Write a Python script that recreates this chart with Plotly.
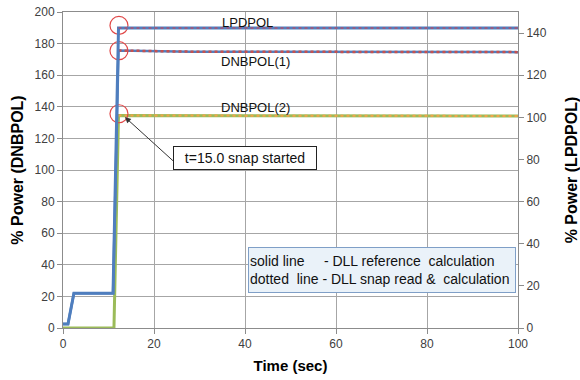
import plotly.graph_objects as go

# ---- data ----
t_lpd = [0, 1.1, 2.4, 11.0, 12.2, 100]
lpd_solid = [1.9, 1.9, 16.5, 16.5, 142.4, 142.4]          # right axis (% LPDPOL)
t_lpd_dot = [12.2, 100]
lpd_dot = [142.4, 142.4]

t_dnb1 = [0, 1.1, 2.4, 11.0, 12.2, 28, 100]
dnb1_solid = [2.5, 2.5, 22, 22, 175.6, 174.9, 174.6]       # left axis
t_dnb1_dot = [12.2, 28, 100]
dnb1_dot = [175.6, 174.9, 174.6]

t_dnb2 = [0, 11.2, 12.2, 100]
dnb2_solid = [0, 0, 134.5, 134.2]
t_dnb2_dot = [12.2, 100]
dnb2_dot = [134.5, 134.2]

t_circ = [12.3, 12.3, 12.3]
y_circ = [191.5, 175.5, 135.6]

x_ticks = [0, 20, 40, 60, 80, 100]
y_ticks = list(range(0, 201, 20))
y2_ticks = list(range(0, 141, 20))

BLUE = "#4F7EBE"
RED = "#C8504D"
GREEN = "#9BBB59"
ORANGE = "#F2A44A"
FONT = "Liberation Sans"

fig = go.Figure()
fig.add_trace(go.Scatter(x=t_dnb2, y=dnb2_solid, mode="lines",
                         line=dict(color=GREEN, width=3), yaxis="y"))
fig.add_trace(go.Scatter(x=t_dnb2_dot, y=dnb2_dot, mode="lines",
                         line=dict(color=ORANGE, width=2, dash="dot"), yaxis="y"))
fig.add_trace(go.Scatter(x=t_dnb1, y=dnb1_solid, mode="lines",
                         line=dict(color=BLUE, width=2.5), yaxis="y"))
fig.add_trace(go.Scatter(x=t_dnb1_dot, y=dnb1_dot, mode="lines",
                         line=dict(color=RED, width=2.5, dash="dot"), yaxis="y"))
fig.add_trace(go.Scatter(x=t_lpd, y=lpd_solid, mode="lines",
                         line=dict(color=BLUE, width=3), yaxis="y2"))
fig.add_trace(go.Scatter(x=t_lpd_dot, y=lpd_dot, mode="lines",
                         line=dict(color="#B0506E", width=1.5, dash="dot"), yaxis="y2"))
fig.add_trace(go.Scatter(x=t_circ, y=y_circ, mode="markers",
                         marker=dict(symbol="circle-open", size=18,
                                     color="#E04848", line=dict(width=1.2)),
                         yaxis="y"))

annots = [
    dict(x=40.6, y=193.5, text="LPDPOL", showarrow=False,
         font=dict(family=FONT, size=13, color="#111")),
    dict(x=42.3, y=168.9, text="DNBPOL(1)", showarrow=False,
         font=dict(family=FONT, size=13, color="#111")),
    dict(x=42.3, y=139.8, text="DNBPOL(2)", showarrow=False,
         font=dict(family=FONT, size=13, color="#111")),
    # arrow
    dict(x=13.6, y=133.5, ax=24.5, ay=105, axref="x", ayref="y",
         xref="x", yref="y", text="", showarrow=True,
         arrowhead=2, arrowsize=1.2, arrowwidth=1, arrowcolor="#333"),
    dict(x=39.9, y=107.6, text="t=15.0 snap started", showarrow=False,
         font=dict(family=FONT, size=14, color="#111"),
         bgcolor="white", bordercolor="#222", borderwidth=1,
         width=140, height=20),
    dict(x=70.0, y=36.5, showarrow=False, align="left",
         text="solid line\u00a0\u00a0\u00a0\u00a0 - DLL reference\u00a0 calculation<br>"
              "dotted\u00a0 line - DLL snap read &amp;\u00a0 calculation",
         font=dict(family=FONT, size=14, color="#111"),
         bgcolor="#EAF2F9", bordercolor="#7F9FC7", borderwidth=1,
         width=264, height=42),
]

axis_common = dict(
    showline=True, linecolor="#8C8C8C", linewidth=1,
    ticks="outside", ticklen=5, tickcolor="#8C8C8C", automargin=False,
    tickfont=dict(family=FONT, size=12, color="#404040"),
)

fig.update_layout(
    width=580, height=380,
    margin=dict(l=63, r=62, t=12, b=52, autoexpand=False),
    paper_bgcolor="white", plot_bgcolor="white",
    showlegend=False,
    annotations=annots,
    xaxis=dict(range=[0, 100], tickvals=x_ticks, showgrid=True,
               gridcolor="#A6A6A6", gridwidth=1, mirror=True, zeroline=False,
               title=dict(text="<b>Time (sec)</b>",
                          font=dict(family=FONT, size=15, color="black"),
                          standoff=10),
               **axis_common),
    yaxis=dict(range=[0, 200], tickvals=y_ticks, showgrid=True,
               gridcolor="#A6A6A6", gridwidth=1, zeroline=False,
               title=dict(text="<b>% Power (DNBPOL)</b>",
                          font=dict(family=FONT, size=16, color="black"),
                          standoff=6),
               **axis_common),
    yaxis2=dict(range=[0, 150], tickvals=y2_ticks, overlaying="y", side="right",
                showgrid=False, zeroline=False,
                title=dict(text="<b>% Power (LPDPOL)</b>",
                           font=dict(family=FONT, size=16, color="black"),
                           standoff=20),
                **axis_common),
)

# remove the default page body margin so the figure sits at the window origin
fig.write_html("out.html", config={"displayModeBar": False},
               post_script="document.body.style.margin='0px';")
